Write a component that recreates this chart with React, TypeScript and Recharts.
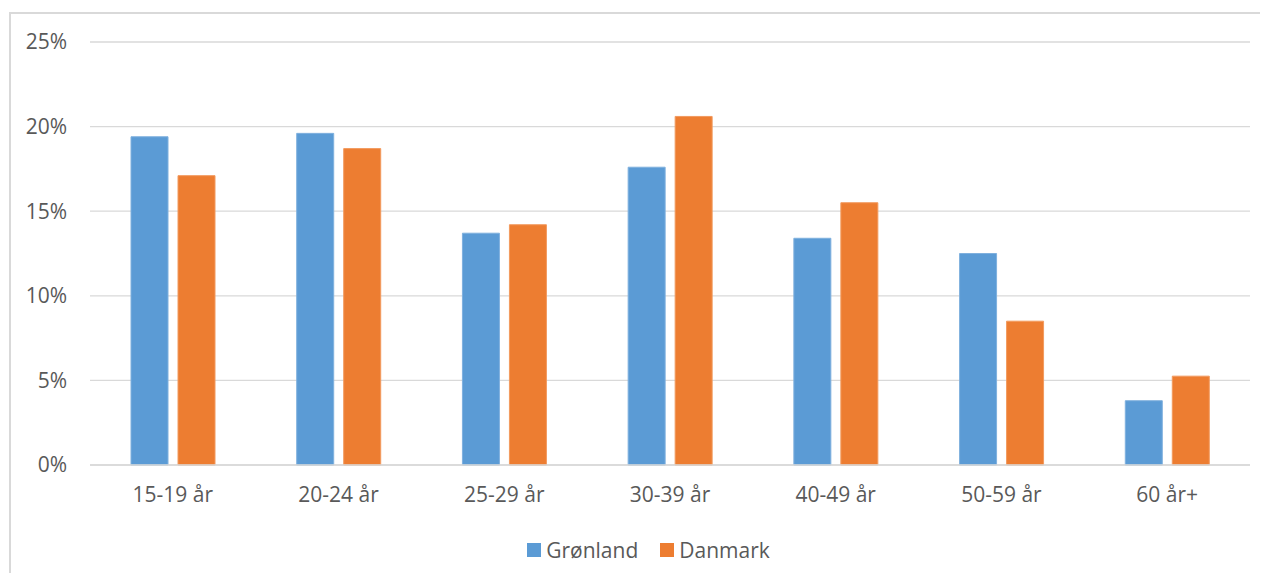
import React from 'react';
import { BarChart, Bar, XAxis, YAxis, CartesianGrid } from 'recharts';

const AGE_GROUPS = ['15-19 år', '20-24 år', '25-29 år', '30-39 år', '40-49 år', '50-59 år', '60 år+'];
const GRONLAND = [19.4, 19.6, 13.7, 17.6, 13.4, 12.5, 3.8];
const DANMARK = [17.1, 18.7, 14.2, 20.6, 15.5, 8.5, 5.25];
const Y_TICKS = [0, 5, 10, 15, 20, 25];

const SERIES = [
  { key: 'gronland', name: 'Grønland', color: '#5b9bd5', edge: '#7fb0de' },
  { key: 'danmark', name: 'Danmark', color: '#ed7d31', edge: '#f29a5e' },
];

const data = AGE_GROUPS.map((name, i) => ({ name, gronland: GRONLAND[i], danmark: DANMARK[i] }));

const FONT = '"Open Sans", Lato, sans-serif';
const TEXT = '#595959';
const FS = 21;

export default function App() {
  return (
    <div style={{ position: 'relative', width: 1268, height: 581, margin: -8, overflow: 'hidden', background: '#fff', fontFamily: FONT }}>
      {/* chart frame, only left and top edges are inside the picture */}
      <div style={{ position: 'absolute', left: 9, top: 12, width: 1400, height: 700, borderLeft: '2px solid #d9d9d9', borderTop: '2px solid #d9d9d9' }} />
      <div style={{ position: 'absolute', left: 0, top: 0 }}>
        <BarChart
          width={1268}
          height={581}
          data={data}
          margin={{ top: 42, right: 18, left: 0, bottom: 56 }}
          barGap={10}
          barCategoryGap={41}
          style={{ fontFamily: FONT }}
        >
          <CartesianGrid vertical={false} stroke="#d9d9d9" strokeWidth={1.3} />
          <XAxis
            dataKey="name"
            axisLine={{ stroke: '#d9d9d9', strokeWidth: 1.3 }}
            tickLine={false}
            tick={{ fill: TEXT, fontSize: FS }}
            tickMargin={16}
            height={60}
          />
          <YAxis
            domain={[0, 25]}
            ticks={Y_TICKS}
            tickFormatter={(v) => `${v}%`}
            axisLine={false}
            tickLine={false}
            tick={{ fill: TEXT, fontSize: FS }}
            tickMargin={17}
            width={90}
          />
          {SERIES.map((s) => (
            <Bar key={s.key} dataKey={s.key} name={s.name} fill={s.color} stroke={s.edge} strokeWidth={1} isAnimationActive={false} />
          ))}
        </BarChart>
      </div>
      {/* legend */}
      <div style={{ position: 'absolute', top: 535, left: 0, width: 1297, display: 'flex', justifyContent: 'center', gap: 22, fontSize: FS, lineHeight: '30px', color: TEXT }}>
        {SERIES.map((s) => (
          <div key={s.key} style={{ display: 'flex', alignItems: 'center', gap: 5 }}>
            <span style={{ display: 'inline-block', width: 14, height: 14, background: s.color }} />
            <span>{s.name}</span>
          </div>
        ))}
      </div>
    </div>
  );
}
